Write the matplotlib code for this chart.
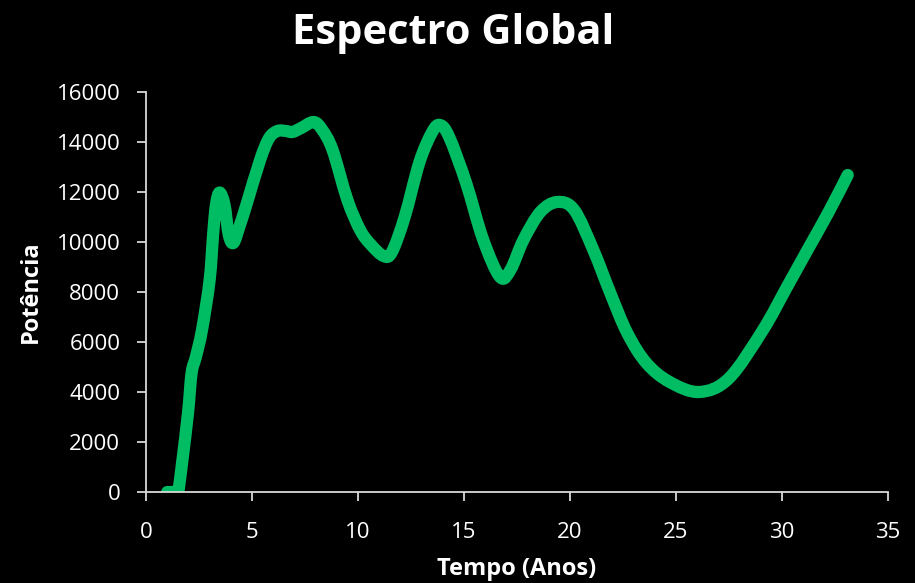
import matplotlib
matplotlib.use("Agg")
import matplotlib.pyplot as plt
from matplotlib.path import Path
from matplotlib.patches import PathPatch

# Global wavelet power spectrum: period (years) vs power
periodo = [1.0, 1.2, 1.4, 1.5, 1.7, 1.98, 2.15, 2.35, 2.64, 3.0, 3.17, 3.3, 3.47,
           3.7, 3.9, 4.12, 4.4, 4.76, 5.38, 5.8, 6.2, 6.6, 6.9, 7.3, 7.9,
           8.3, 8.8, 9.5, 10.1, 10.6, 11.2, 11.6, 12.2, 12.9, 13.5, 13.87,
           14.3, 15.1, 15.9, 16.7, 17.2, 17.8, 18.6, 19.4, 20.2, 21.1,
           21.9, 22.7, 23.6, 24.7, 26.1, 27.5, 29.1, 30.2, 31.2, 32.2, 33.1]
potencia = [0, 0, 0, -100, 1160, 3160, 4760, 5400, 6480, 8480, 10360, 11500, 11980,
            11500, 10300, 9960, 10600, 11560, 13280, 14150, 14440, 14440, 14400, 14550, 14800,
            14500, 13680, 11680, 10480, 9900, 9440, 9600, 11000, 13200, 14400, 14680,
            14200, 12360, 10100, 8600, 8900, 10080, 11200, 11600, 11280, 9680,
            7960, 6360, 5160, 4400, 4000, 4550, 6480, 8150, 9680, 11200, 12680]

xticks = [0, 5, 10, 15, 20, 25, 30, 35]
yticks = [0, 2000, 4000, 6000, 8000, 10000, 12000, 14000, 16000]

LINE_GREEN = '#00BC62'
AXIS_GREY = '#D9D9D9'

plt.rcParams['font.family'] = ['Open Sans', 'DejaVu Sans']


def smooth_path(xs, ys):
    """Smoothed line through the points (Catmull-Rom as cubic Bezier)."""
    pts = list(zip(xs, ys))
    n = len(pts)
    verts = [pts[0]]
    codes = [Path.MOVETO]
    for i in range(n - 1):
        p0 = pts[i - 1] if i > 0 else pts[i]
        p1 = pts[i]
        p2 = pts[i + 1]
        p3 = pts[i + 2] if i + 2 < n else pts[i + 1]
        c1 = (p1[0] + (p2[0] - p0[0]) / 6.0, p1[1] + (p2[1] - p0[1]) / 6.0)
        c2 = (p2[0] - (p3[0] - p1[0]) / 6.0, p2[1] - (p3[1] - p1[1]) / 6.0)
        verts += [c1, c2, p2]
        codes += [Path.CURVE4] * 3
    return Path(verts, codes)


fig = plt.figure(figsize=(9.15, 5.83), dpi=100, facecolor='black')
ax = fig.add_axes([0.1596, 0.1561, 0.8109, 0.6861], facecolor='black')

ax.add_patch(PathPatch(smooth_path(periodo, potencia), fill=False,
                       edgecolor=LINE_GREEN, linewidth=8.8,
                       capstyle='round', joinstyle='round'))

ax.set_xlim(0, 35)
ax.set_ylim(0, 16000)
ax.set_xticks(xticks)
ax.set_yticks(yticks)
ax.set_xticklabels([str(v) for v in xticks])
ax.set_yticklabels([str(v) for v in yticks])

for s in ('top', 'right'):
    ax.spines[s].set_visible(False)
for s in ('left', 'bottom'):
    ax.spines[s].set_color(AXIS_GREY)
    ax.spines[s].set_linewidth(1.3)

ax.tick_params(axis='both', colors=AXIS_GREY, labelcolor='white',
               labelsize=16, length=6.5, width=1.3, direction='out')
ax.tick_params(axis='x', pad=15)
ax.tick_params(axis='y', pad=12)

ax.set_xlabel('Tempo (Anos)', color='white', fontsize=17, fontweight='bold', labelpad=10)
ax.set_ylabel('Potência', color='white', fontsize=17, fontweight='bold', labelpad=10)

fig.text(0.495, 0.9245, 'Espectro Global', color='white', fontsize=30,
         fontweight='bold', ha='center', va='baseline')

fig.savefig('out.png', dpi=100, facecolor='black')
